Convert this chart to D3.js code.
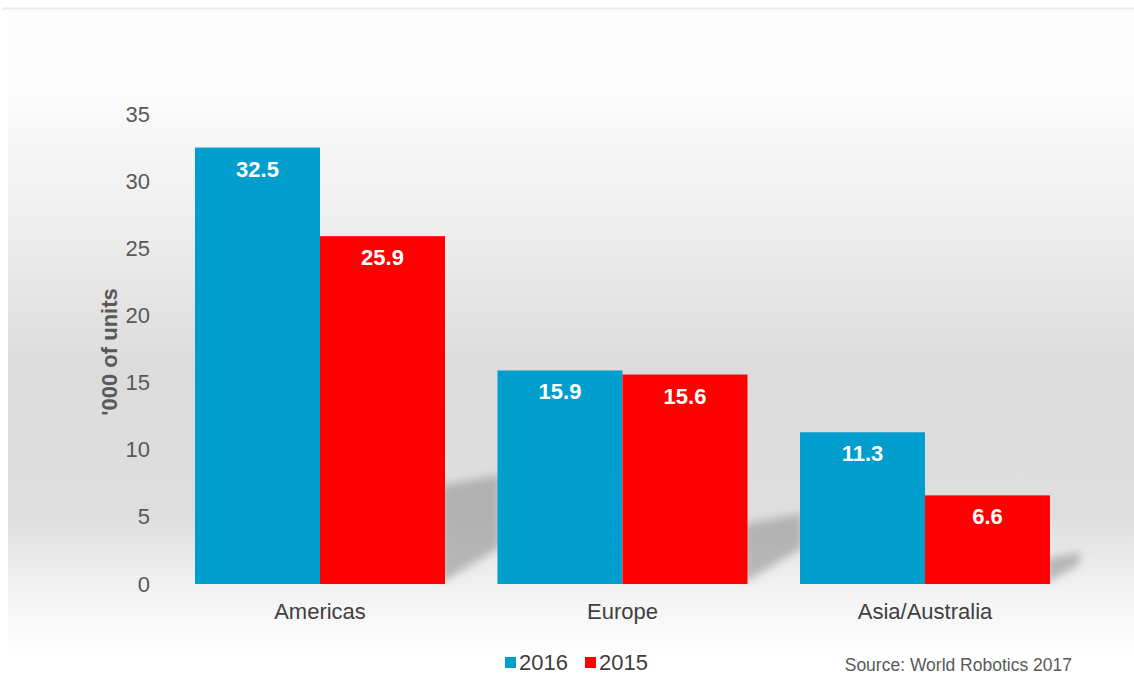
<!DOCTYPE html>
<html><head><meta charset="utf-8">
<script src="https://cdn.jsdelivr.net/npm/d3@7/dist/d3.min.js"></script>
<style>body{margin:0;background:#fff;}svg{display:block;font-family:"Liberation Sans",Arial,sans-serif;}</style>
</head><body>
<svg id="c" width="1134" height="679"></svg>
<script>
const categories = ["Americas", "Europe", "Asia/Australia"];
const seriesNames = ["2016", "2015"];
const values2016 = [32.5, 15.9, 11.3];
const values2015 = [25.9, 15.6, 6.6];
const yTicks = [0, 5, 10, 15, 20, 25, 30, 35];
const colors = {"2016": "#009ecc", "2015": "#ff0000"};

const svg = d3.select("#c");
const defs = svg.append("defs");
const g = defs.append("linearGradient").attr("id","bg").attr("x1",0).attr("y1",0).attr("x2",0).attr("y2",1);
[[0,"#fdfdfd"],[0.12,"#fcfcfc"],[0.3,"#f0f0f0"],[0.55,"#dcdcdc"],[0.78,"#dedede"],[0.9,"#f3f3f3"],[1,"#ffffff"]]
  .forEach(([o,c])=>g.append("stop").attr("offset",o).attr("stop-color",c));
defs.append("filter").attr("id","blur").attr("x","-50%").attr("y","-50%").attr("width","200%").attr("height","200%")
  .append("feGaussianBlur").attr("stdDeviation",4);

svg.append("rect").attr("x",8).attr("y",9).attr("width",1126).attr("height",650).attr("fill","url(#bg)");
svg.append("line").attr("x1",3).attr("x2",1134).attr("y1",8.5).attr("y2",8.5).attr("stroke","#ececec").attr("stroke-width",2);

const y = d3.scaleLinear().domain([0,35]).range([584,114]);
const x0 = d3.scaleBand().domain(categories).range([168.75,1076.25]).paddingInner(0.1736).paddingOuter(0.0868);
const x1 = d3.scaleBand().domain(seriesNames).range([0,x0.bandwidth()]);

const data = categories.map((c,i)=>({cat:c, vals:[{s:"2016",v:values2016[i]},{s:"2015",v:values2015[i]}]}));

// shadows
data.forEach(d=>{
  const xr = x0(d.cat)+x0.bandwidth();
  const h = (y(0)-y(d.vals[1].v))*0.28;
  const dx = Math.min(55, h*1.2), s = dx*0.65;
  const b = y(0)-1;
  svg.append("polygon")
    .attr("points",[[xr-4,b],[xr-4,b-h],[xr+dx,b-h-s*0.3],[xr+dx,b-s]].map(p=>p.join(",")).join(" "))
    .attr("fill","#9a9a9a").attr("opacity",0.65).attr("filter","url(#blur)");
});

const groups = svg.selectAll("g.grp").data(data).join("g").attr("class","grp")
  .attr("transform",d=>`translate(${x0(d.cat)},0)`);
groups.selectAll("rect").data(d=>d.vals).join("rect")
  .attr("x",d=>x1(d.s)).attr("width",x1.bandwidth())
  .attr("y",d=>y(d.v)).attr("height",d=>y(0)-y(d.v))
  .attr("fill",d=>colors[d.s]);
groups.selectAll("text").data(d=>d.vals).join("text")
  .attr("x",d=>x1(d.s)+x1.bandwidth()/2).attr("y",d=>y(d.v)+29)
  .attr("text-anchor","middle").attr("fill","#fff").attr("font-weight","bold").attr("font-size",22)
  .text(d=>d.v.toFixed(1));

// y axis
const ya = svg.append("g").attr("transform","translate(150,0)")
  .call(d3.axisLeft(y).tickValues(yTicks).tickSize(0).tickPadding(0));
ya.select(".domain").remove();
ya.selectAll("text").attr("font-size",22).attr("fill","#595959").attr("font-family","Liberation Sans, Arial, sans-serif");

// x axis
const xa = svg.append("g").attr("transform","translate(0,603)")
  .call(d3.axisBottom(x0).tickSize(0).tickPadding(0));
xa.select(".domain").remove();
xa.selectAll("text").attr("font-size",22).attr("fill","#404040").attr("dy","0.71em").attr("font-family","Liberation Sans, Arial, sans-serif");

svg.append("text").attr("transform","translate(117,352) rotate(-90)")
  .attr("text-anchor","middle").attr("font-weight","bold").attr("font-size",22).attr("fill","#595959")
  .text("'000 of units");

// legend
const lg = svg.append("g").attr("transform","translate(505,670)");
const lx = [0, 80];
seriesNames.forEach((s,i)=>{
  lg.append("rect").attr("x",lx[i]).attr("y",-13).attr("width",11).attr("height",11).attr("fill",colors[s]);
  lg.append("text").attr("x",lx[i]+14).attr("y",0).attr("font-size",22).attr("fill","#404040").text(s);
});

svg.append("text").attr("x",1072).attr("y",671).attr("text-anchor","end").attr("font-size",17.5).attr("fill","#595959")
  .text("Source: World Robotics 2017");
</script>
</body></html>
